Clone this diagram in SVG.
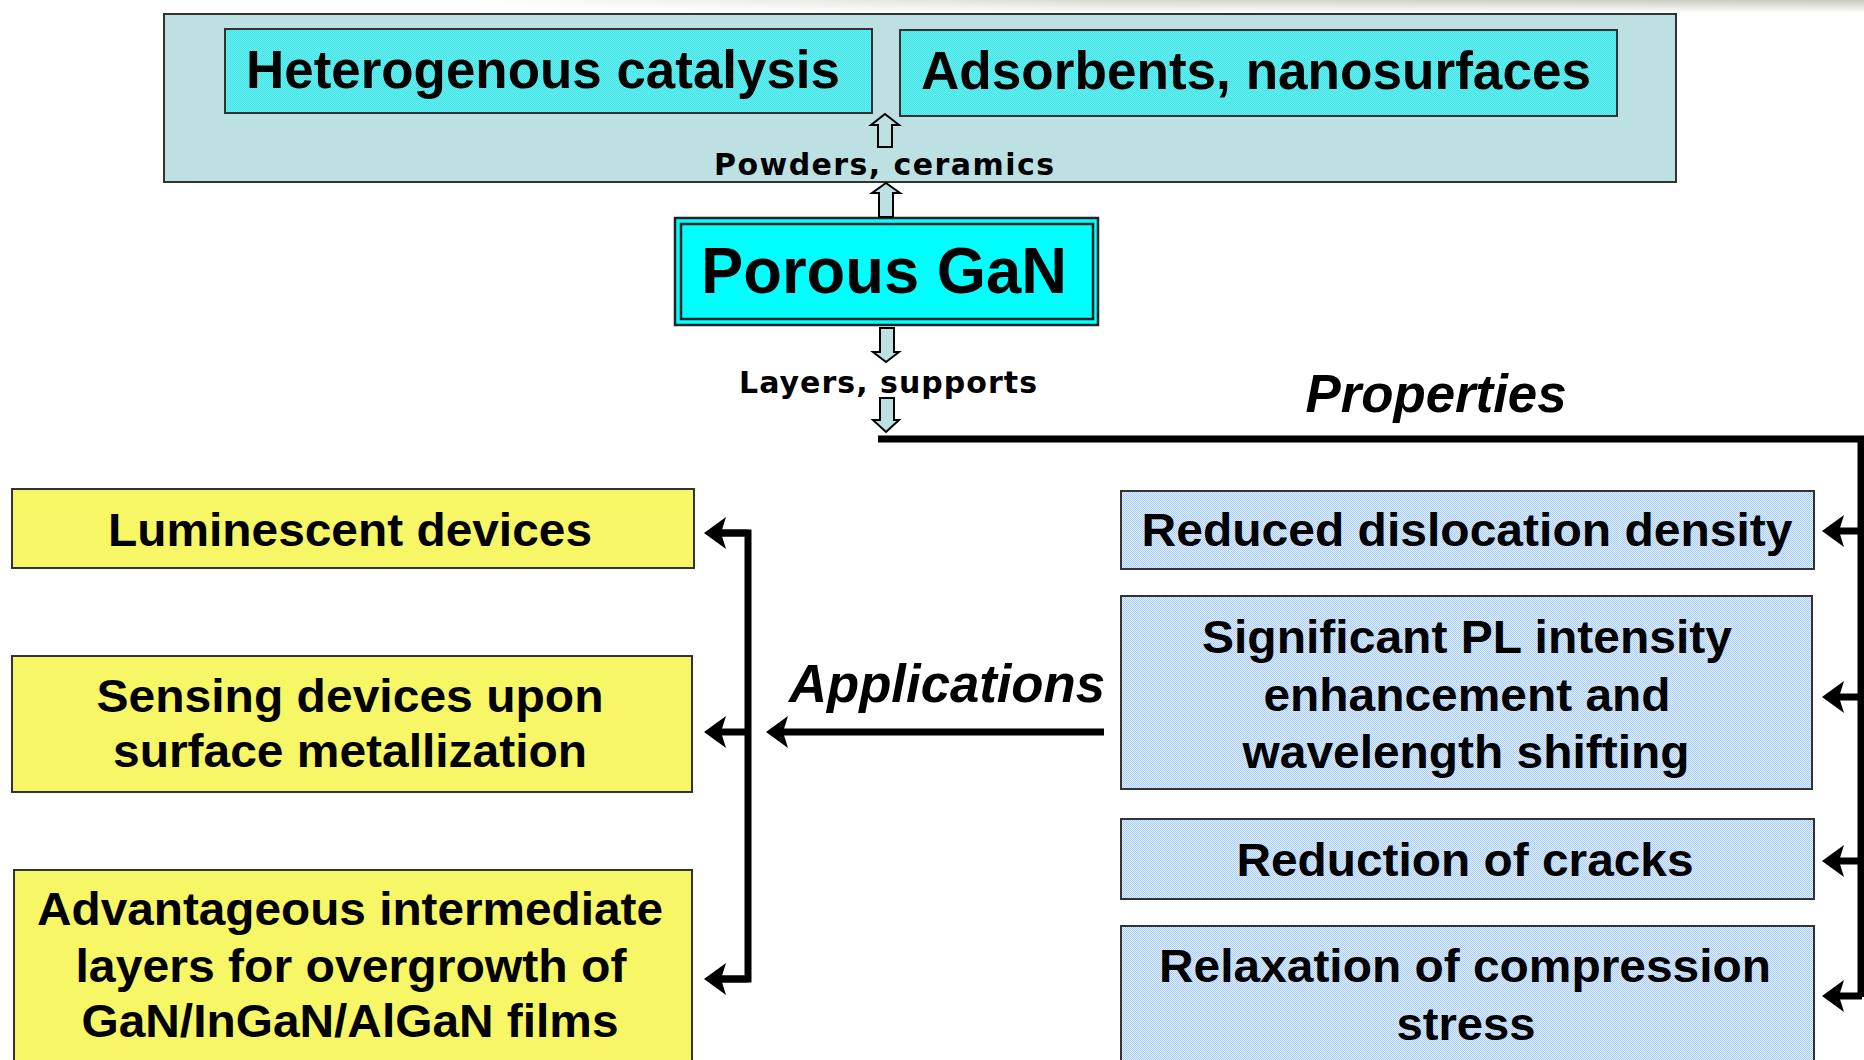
<svg xmlns="http://www.w3.org/2000/svg" width="1864" height="1060" viewBox="0 0 1864 1060">
<defs>
<pattern id="pYel" width="2" height="2" patternUnits="userSpaceOnUse">
<rect width="2" height="2" fill="#ffff33"/><rect x="1" width="1" height="1" fill="#eeee99"/><rect y="1" width="1" height="1" fill="#eeee99"/>
</pattern>
<pattern id="pBlu" width="2" height="2" patternUnits="userSpaceOnUse">
<rect width="2" height="2" fill="#a8ccf8"/><rect x="1" width="1" height="1" fill="#e4f0ff"/><rect y="1" width="1" height="1" fill="#e4f0ff"/>
</pattern>
<pattern id="pCya" width="2" height="2" patternUnits="userSpaceOnUse">
<rect width="2" height="2" fill="#22eeee"/><rect x="1" width="1" height="1" fill="#88e4e8"/><rect y="1" width="1" height="1" fill="#88e4e8"/>
</pattern>
<linearGradient id="gTop" x1="0" y1="0" x2="1" y2="0">
<stop offset="0.25" stop-color="#ffffff"/><stop offset="0.6" stop-color="#d8d8d0"/><stop offset="1" stop-color="#c9c9c0"/>
</linearGradient>
<linearGradient id="gTopV" x1="0" y1="0" x2="0" y2="1">
<stop offset="0" stop-color="#fff" stop-opacity="0"/><stop offset="1" stop-color="#fff" stop-opacity="1"/>
</linearGradient>
<marker id="ah" markerUnits="userSpaceOnUse" markerWidth="40" markerHeight="40" refX="10" refY="0" orient="auto" overflow="visible">
<path d="M22,0 L0,-16 L5,0 L0,16 Z" fill="#000"/>
</marker>
</defs>
<style>
.box{stroke:#333;stroke-width:2}
.t{font-family:"Liberation Sans",Arial,sans-serif;font-weight:bold;fill:#000;text-anchor:middle}
.tb{font-size:47px}
.tt{font-size:54px}
.ti{font-style:italic;font-size:54px}
.tv{font-family:"DejaVu Sans",Verdana,sans-serif;font-weight:bold;font-size:30px;fill:#000;text-anchor:middle}
.ln{fill:none;stroke:#000;stroke-width:7}
.la{fill:none;stroke:#000;stroke-width:7;marker-end:url(#ah)}
.ba{fill:#bde0e3;stroke:#000;stroke-width:2}
</style>
<rect width="1864" height="1060" fill="#fff"/>
<rect x="0" y="0" width="1864" height="13" fill="url(#gTop)"/>
<rect x="0" y="0" width="1864" height="13" fill="url(#gTopV)"/>

<g id="top-container">
<rect class="box" x="164" y="14" width="1512" height="168" fill="#bde0e3"/>
<text class="tv" x="884" y="175" textLength="340" lengthAdjust="spacing">Powders, ceramics</text>
</g>
<g id="node-heterogenous">
<rect class="box" x="225" y="29" width="647" height="84" fill="url(#pCya)"/>
<text class="t tt" x="543" y="88" textLength="594" lengthAdjust="spacingAndGlyphs">Heterogenous catalysis</text>
</g>
<g id="node-adsorbents">
<rect class="box" x="900" y="30" width="717" height="86" fill="url(#pCya)"/>
<text class="t tt" x="1256" y="89" textLength="670" lengthAdjust="spacingAndGlyphs">Adsorbents, nanosurfaces</text>
</g>
<g id="node-porous">
<rect x="675" y="218" width="423" height="107" fill="#00ffff" stroke="#222" stroke-width="2.5"/>
<rect x="681" y="224" width="412" height="95" fill="none" stroke="#222" stroke-width="2.5"/>
<text class="t" x="884" y="293" font-size="64" textLength="366" lengthAdjust="spacingAndGlyphs">Porous GaN</text>
</g>
<g id="label-layers">
<text class="tv" x="888" y="393" textLength="298" lengthAdjust="spacing">Layers, supports</text>
</g>
<g id="label-properties">
<text class="t ti" x="1436" y="412" textLength="261" lengthAdjust="spacingAndGlyphs">Properties</text>
</g>
<g id="label-applications">
<text class="t ti" x="947" y="702" textLength="316" lengthAdjust="spacingAndGlyphs">Applications</text>
</g>

<g id="node-reduced">
<rect class="box" x="1121" y="491" width="693" height="78" fill="url(#pBlu)"/>
<text class="t tb" x="1467" y="546" textLength="651" lengthAdjust="spacingAndGlyphs">Reduced dislocation density</text>
</g>
<g id="node-significant">
<rect class="box" x="1121" y="596" width="691" height="193" fill="url(#pBlu)"/>
<text class="t tb" x="1467" y="653" textLength="530" lengthAdjust="spacingAndGlyphs">Significant PL intensity</text>
<text class="t tb" x="1467" y="711" textLength="407" lengthAdjust="spacingAndGlyphs">enhancement and</text>
<text class="t tb" x="1466" y="768" textLength="447" lengthAdjust="spacingAndGlyphs">wavelength shifting</text>
</g>
<g id="node-cracks">
<rect class="box" x="1121" y="819" width="693" height="80" fill="url(#pBlu)"/>
<text class="t tb" x="1465" y="876" textLength="457" lengthAdjust="spacingAndGlyphs">Reduction of cracks</text>
</g>
<g id="node-relaxation">
<rect class="box" x="1121" y="926" width="693" height="150" fill="url(#pBlu)"/>
<text class="t tb" x="1465" y="982" textLength="612" lengthAdjust="spacingAndGlyphs">Relaxation of compression</text>
<text class="t tb" x="1466" y="1040" textLength="139" lengthAdjust="spacingAndGlyphs">stress</text>
</g>

<g id="node-luminescent">
<rect class="box" x="12" y="489" width="682" height="79" fill="url(#pYel)"/>
<text class="t tb" x="350" y="546" textLength="484" lengthAdjust="spacingAndGlyphs">Luminescent devices</text>
</g>
<g id="node-sensing">
<rect class="box" x="12" y="656" width="680" height="136" fill="url(#pYel)"/>
<text class="t tb" x="350" y="712" textLength="507" lengthAdjust="spacingAndGlyphs">Sensing devices upon</text>
<text class="t tb" x="350" y="767" textLength="474" lengthAdjust="spacingAndGlyphs">surface metallization</text>
</g>
<g id="node-advantageous">
<rect class="box" x="14" y="870" width="678" height="210" fill="url(#pYel)"/>
<text class="t tb" x="350" y="925" textLength="626" lengthAdjust="spacingAndGlyphs">Advantageous intermediate</text>
<text class="t tb" x="351" y="982" textLength="551" lengthAdjust="spacingAndGlyphs">layers for overgrowth of</text>
<text class="t tb" x="350" y="1037" textLength="537" lengthAdjust="spacingAndGlyphs">GaN/InGaN/AlGaN films</text>
</g>

<g id="connectors">
<path class="ba" d="M885,114 L899,125 L892,125 L892,147 L878,147 L878,125 L871,125 Z"/>
<path class="ba" d="M886,183 L900,193 L893,193 L893,217 L879,217 L879,193 L872,193 Z"/>
<path class="ba" d="M886,362 L899,352 L894,352 L894,328 L880,328 L880,352 L873,352 Z"/>
<path class="ba" d="M886,432 L899,420 L894,420 L894,398 L880,398 L880,420 L873,420 Z"/>
<path class="ln" d="M878,439 H1861 V997"/>
<path class="la" d="M1862,531 H1834"/>
<path class="la" d="M1862,697 H1834"/>
<path class="la" d="M1862,861 H1834"/>
<path class="la" d="M1862,996 H1834"/>
<path class="la" d="M1104,732 H778"/>
<path class="ln" d="M716,533 H748 V979 H716"/>
<path class="la" d="M748,533 H716"/>
<path class="la" d="M748,732 H716"/>
<path class="la" d="M748,979 H716"/>
</g>
</svg>
